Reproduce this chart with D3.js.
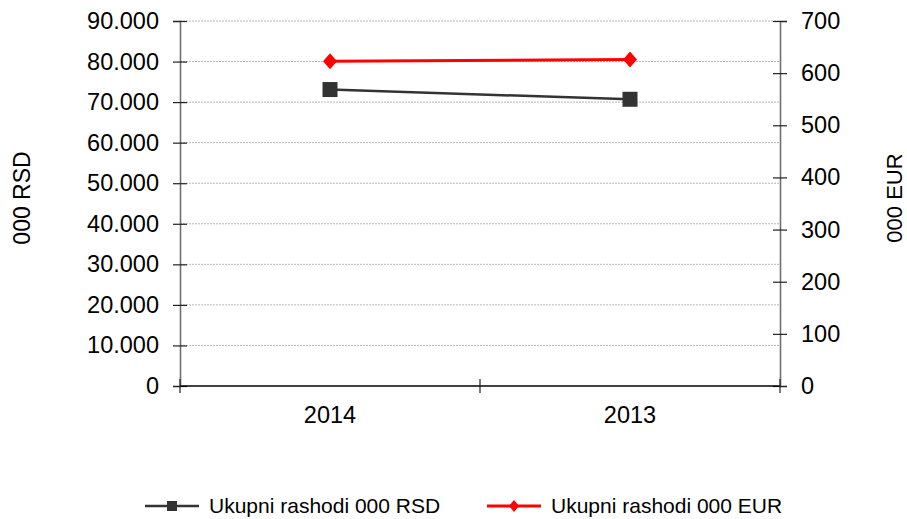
<!DOCTYPE html>
<html>
<head>
<meta charset="utf-8">
<script src="https://cdn.jsdelivr.net/npm/d3@7"></script>
<style>
  html, body { margin: 0; padding: 0; background: #fff; }
  svg { display: block; font-family: "Liberation Sans", Arial, sans-serif; }
</style>
</head>
<body>
<svg id="chart" width="907" height="519"></svg>
<script>
// Years on the category axis
const years = ["2014", "2013"];
// Total expenditure, thousands of RSD (left axis)
const rsdValues = [73100, 70700];
// Total expenditure, thousands of EUR (right axis)
const eurValues = [623, 626];
// Axis tick values
const leftTicks = [0, 10000, 20000, 30000, 40000, 50000, 60000, 70000, 80000, 90000];
const rightTicks = [0, 100, 200, 300, 400, 500, 600, 700];
// Series names
const seriesNames = ["Ukupni rashodi 000 RSD", "Ukupni rashodi 000 EUR"];

const svg = d3.select("#chart");
const plot = { left: 180, right: 780, top: 21, bottom: 386 };

const locale = d3.formatLocale({ decimal: ",", thousands: ".", grouping: [3], currency: ["", ""] });
const fmt = locale.format(",d");

const x = d3.scaleBand().domain(years).range([plot.left, plot.right]);
const yL = d3.scaleLinear().domain([0, 90000]).range([plot.bottom, plot.top]);
const yR = d3.scaleLinear().domain([0, 700]).range([plot.bottom, plot.top]);

// Horizontal grid lines
svg.append("g")
  .selectAll("line")
  .data(leftTicks.filter(d => d > 0))
  .join("line")
  .attr("x1", plot.left).attr("x2", plot.right)
  .attr("y1", d => yL(d)).attr("y2", d => yL(d))
  .attr("stroke", "#b8b8b8")
  .attr("stroke-width", 1)
  .attr("stroke-dasharray", "2,1");

const labelFont = 23.5;

// Left axis
const gL = svg.append("g").attr("transform", `translate(${plot.left},0)`)
  .call(d3.axisLeft(yL).tickValues(leftTicks).tickFormat(fmt).tickSize(7).tickPadding(14));
gL.select(".domain").attr("stroke", "#707070").attr("stroke-width", 1.6);
gL.selectAll(".tick line").attr("stroke", "#222").attr("stroke-width", 1.2).attr("x2", -7)
  .clone().attr("x2", 7);
gL.selectAll(".tick text").attr("font-size", labelFont).attr("fill", "#000")
  .attr("font-family", "Liberation Sans, Arial, sans-serif");

// Right axis
const gR = svg.append("g").attr("transform", `translate(${plot.right},0)`)
  .call(d3.axisRight(yR).tickValues(rightTicks).tickSize(7).tickPadding(14));
gR.select(".domain").attr("stroke", "#707070").attr("stroke-width", 1.6);
gR.selectAll(".tick line").attr("stroke", "#222").attr("stroke-width", 1.2)
  .clone().attr("x2", -7);
gR.selectAll(".tick text").attr("font-size", labelFont).attr("fill", "#000")
  .attr("font-family", "Liberation Sans, Arial, sans-serif");

// Category axis with ticks at band boundaries
const gB = svg.append("g").attr("transform", `translate(0,${plot.bottom})`);
gB.append("line").attr("x1", plot.left).attr("x2", plot.right)
  .attr("stroke", "#000").attr("stroke-width", 1.6);
const boundaries = [plot.left, x(years[1]), plot.right];
gB.selectAll("line.b").data(boundaries).join("line").attr("class", "b")
  .attr("x1", d => d).attr("x2", d => d).attr("y1", -7).attr("y2", 7)
  .attr("stroke", "#222").attr("stroke-width", 1.2);
gB.selectAll("text").data(years).join("text")
  .attr("x", d => x(d) + x.bandwidth() / 2)
  .attr("y", 29)
  .attr("dy", "0.35em")
  .attr("text-anchor", "middle")
  .attr("font-size", labelFont)
  .text(d => d);

// Axis titles
svg.append("text")
  .attr("transform", "translate(22,198) rotate(-90)")
  .attr("text-anchor", "middle").attr("dy", "0.35em")
  .attr("font-size", 23).text("000 RSD");
svg.append("text")
  .attr("transform", "translate(894,198) rotate(-90)")
  .attr("text-anchor", "middle").attr("dy", "0.35em")
  .attr("font-size", 22).text("000 EUR");

const cx = d => x(d) + x.bandwidth() / 2;

// RSD series
const rsdData = years.map((d, i) => ({ year: d, v: rsdValues[i] }));
svg.append("path")
  .datum(rsdData)
  .attr("fill", "none").attr("stroke", "#333").attr("stroke-width", 2.5)
  .attr("d", d3.line().x(d => cx(d.year)).y(d => yL(d.v)));
svg.append("g").selectAll("path").data(rsdData).join("path")
  .attr("transform", d => `translate(${cx(d.year)},${yL(d.v)})`)
  .attr("d", d3.symbol(d3.symbolSquare, 225))
  .attr("fill", "#333");

// EUR series
const eurData = years.map((d, i) => ({ year: d, v: eurValues[i] }));
svg.append("path")
  .datum(eurData)
  .attr("fill", "none").attr("stroke", "#ff0000").attr("stroke-width", 3)
  .attr("d", d3.line().x(d => cx(d.year)).y(d => yR(d.v)));
svg.append("g").selectAll("path").data(eurData).join("path")
  .attr("transform", d => `translate(${cx(d.year)},${yR(d.v)})`)
  .attr("d", "M0,-8L7,0L0,8L-7,0Z")
  .attr("fill", "#ff0000");

// Legend
const legend = svg.append("g").attr("transform", "translate(0,506)");
const legendItems = [
  { name: seriesNames[0], color: "#333", x0: 145, type: "square" },
  { name: seriesNames[1], color: "#ff0000", x0: 487, type: "diamond" }
];
legendItems.forEach(it => {
  const g = legend.append("g").attr("transform", `translate(${it.x0},0)`);
  g.append("line").attr("x1", 0).attr("x2", 54)
    .attr("stroke", it.color).attr("stroke-width", it.type === "square" ? 2.5 : 3);
  if (it.type === "square") {
    g.append("rect").attr("x", 22).attr("y", -5).attr("width", 10).attr("height", 10).attr("fill", it.color);
  } else {
    g.append("path").attr("d", "M27,-6L32,0L27,6L22,0Z").attr("fill", it.color);
  }
  g.append("text").attr("x", 64).attr("dy", "0.35em")
    .attr("font-size", 21).text(it.name);
});
</script>
</body>
</html>
